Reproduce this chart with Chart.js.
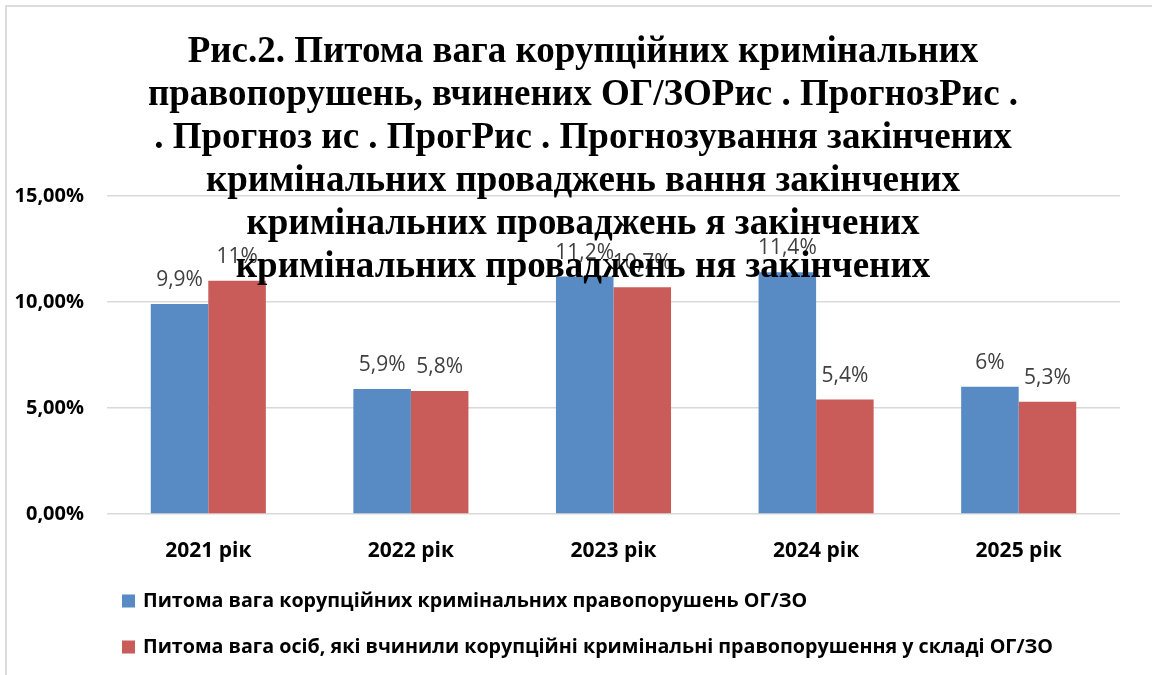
<!DOCTYPE html>
<html><head><meta charset="utf-8">
<script src="https://cdn.jsdelivr.net/npm/chart.js@4/dist/chart.umd.min.js"></script>
<style>html,body{margin:0;padding:0;background:#fff}#wrap{width:1152px;height:675px;position:relative}</style>
</head><body><div id="wrap"><canvas id="c" width="1152" height="675"></canvas></div>
<script>
const categories = ['2021 рік', '2022 рік', '2023 рік', '2024 рік', '2025 рік'];
const series1Values = [9.9, 5.9, 11.2, 11.4, 6];
const series2Values = [11, 5.8, 10.7, 5.4, 5.3];
const series1Labels = ['9,9%', '5,9%', '11,2%', '11,4%', '6%'];
const series2Labels = ['11%', '5,8%', '10,7%', '5,4%', '5,3%'];
const seriesNames = [
  'Питома вага корупційних кримінальних правопорушень ОГ/ЗО',
  'Питома вага осіб, які вчинили корупційні кримінальні правопорушення у складі ОГ/ЗО'
];
const titleLines = [
  'Рис.2. Питома вага корупційних кримінальних',
  'правопорушень, вчинених ОГ/ЗОРис . ПрогнозРис .',
  '. Прогноз ис . ПрогРис . Прогнозування закінчених',
  'кримінальних проваджень вання закінчених',
  'кримінальних проваджень я закінчених',
  'кримінальних проваджень ня закінчених'
];
const yMin = 0, yMax = 15, yStep = 5;

const BLUE = '#588bc4', RED = '#c95b58';

const labelsPlugin = {
  id: 'valueLabels',
  afterDatasetsDraw(chart) {
    const ctx = chart.ctx;
    const texts = [series1Labels, series2Labels];
    ctx.save();
    ctx.font = '21px "Open Sans"';
    ctx.fillStyle = '#404040';
    ctx.textAlign = 'center';
    ctx.textBaseline = 'middle';
    chart.data.datasets.forEach((ds, di) => {
      const meta = chart.getDatasetMeta(di);
      meta.data.forEach((bar, i) => {
        ctx.fillText(texts[di][i], bar.x, bar.y - 24);
      });
    });
    ctx.restore();
  }
};

const decoPlugin = {
  id: 'deco',
  afterDraw(chart) {
    const ctx = chart.ctx;
    ctx.save();
    // frame
    ctx.strokeStyle = '#dcdcdc';
    ctx.lineWidth = 2;
    ctx.beginPath();
    ctx.moveTo(6, 675); ctx.lineTo(6, 6); ctx.lineTo(1152, 6);
    ctx.stroke();
    // title
    ctx.font = 'bold 37px "Liberation Serif"';
    ctx.fillStyle = '#000';
    ctx.textAlign = 'center';
    ctx.textBaseline = 'alphabetic';
    titleLines.forEach((t, i) => ctx.fillText(t, 583, 62 + i * 43));
    // legend
    ctx.font = 'bold 19.7px "Open Sans"';
    ctx.textAlign = 'left';
    ctx.textBaseline = 'middle';
    chart.data.datasets.forEach((ds, i) => {
      const cy = 601 + i * 46;
      ctx.fillStyle = ds.backgroundColor;
      ctx.fillRect(122, cy - 6.5, 13, 13);
      ctx.fillStyle = '#000';
      ctx.fillText(ds.label, 143, cy);
    });
    ctx.restore();
  }
};

new Chart(document.getElementById('c'), {
  type: 'bar',
  data: {
    labels: categories,
    datasets: [
      { label: seriesNames[0], data: series1Values, backgroundColor: BLUE },
      { label: seriesNames[1], data: series2Values, backgroundColor: RED }
    ]
  },
  options: {
    responsive: false,
    animation: false,
    devicePixelRatio: 1,
    layout: { padding: { top: 196, left: 0, right: 32, bottom: 0 } },
    datasets: { bar: { categoryPercentage: 0.568, barPercentage: 1 } },
    plugins: { legend: { display: false }, title: { display: false }, tooltip: { enabled: false } },
    scales: {
      x: {
        grid: { display: false },
        border: { display: false },
        ticks: { color: '#000', font: { family: 'Open Sans', weight: 'bold', size: 21 }, padding: 16 },
        afterFit(s) { s.height = 161; }
      },
      y: {
        min: yMin, max: yMax,
        grid: { color: '#d9d9d9', lineWidth: 1.5, drawTicks: false },
        border: { display: false },
        ticks: {
          stepSize: yStep, color: '#000', padding: 23,
          font: { family: 'Open Sans', weight: 'bold', size: 20 },
          callback: v => v.toFixed(2).replace('.', ',') + '%'
        },
        afterFit(s) { s.width = 107; }
      }
    }
  },
  plugins: [labelsPlugin, decoPlugin]
});
</script></body></html>
